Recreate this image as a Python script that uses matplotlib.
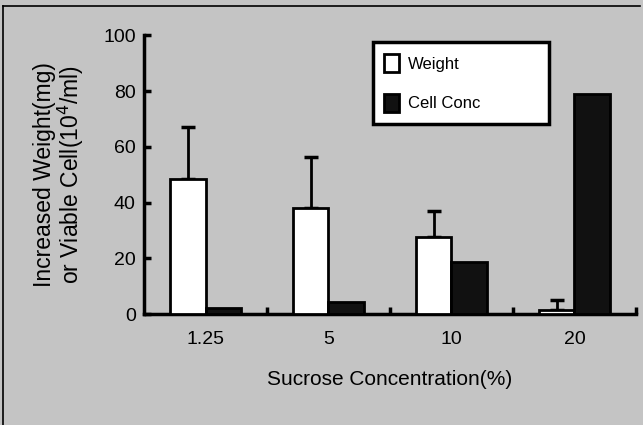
#!/usr/bin/env python3
# sucrose_bars.py

import numpy as np
import matplotlib
matplotlib.use("Agg")
import matplotlib.pyplot as plt
from matplotlib.lines import Line2D

# data
categories = ["1.25", "5", "10", "20"]
weight = [48.3, 38.2, 27.5, 1.5]
weight_err = [18.7, 18.1, 9.5, 3.4]
cell_conc = [2.1, 4.5, 18.6, 78.9]

plt.rcParams["font.family"] = ["Liberation Sans Narrow", "Liberation Sans", "DejaVu Sans"]

BG = "#c4c4c4"


def main():
    fig = plt.figure(figsize=(6.43, 4.25), dpi=100, facecolor=BG)
    ax = fig.add_axes([0.224, 0.261, 0.765, 0.656])
    ax.set_facecolor(BG)

    x = np.arange(len(categories)) + 0.5
    w = 0.29
    ax.bar(x - w / 2, weight, w, color="white", edgecolor="black", linewidth=2,
           label="Weight", zorder=3)
    ax.errorbar(x - w / 2, weight, yerr=[np.zeros(len(weight)), weight_err],
                fmt="none", ecolor="black", elinewidth=2, capsize=5, capthick=2.5,
                zorder=2)
    ax.bar(x + w / 2, cell_conc, w, color="#111111", edgecolor="black", linewidth=2,
           label="Cell Conc", zorder=3)

    ax.set_xlim(0, 4)
    ax.set_ylim(0, 100)
    for s in ("top", "right"):
        ax.spines[s].set_visible(False)
    for s in ("left", "bottom"):
        ax.spines[s].set_linewidth(2.5)

    ax.set_yticks([0, 20, 40, 60, 80, 100])
    ax.tick_params(axis="y", direction="in", length=5, width=2.5, labelsize=14, pad=6)
    ax.set_xticks(x)
    ax.set_xticklabels(categories)
    ax.tick_params(axis="x", length=0, labelsize=14, pad=12)
    ax.set_xticks([1, 2, 3, 4], minor=True)
    ax.tick_params(axis="x", which="minor", direction="in", length=5, width=2.5)

    ax.set_xlabel("Sucrose Concentration(%)", fontsize=15, labelpad=16)
    ax.set_ylabel("Increased Weight(mg)\nor Viable Cell(10$^4$/ml)", fontsize=16.5,
                  labelpad=12, linespacing=1.0)

    leg = ax.legend(loc="upper left", bbox_to_anchor=(0.465, 0.685, 0.358, 0.29),
                    mode="expand", fontsize=12,
                    fancybox=False, framealpha=1, edgecolor="black",
                    borderpad=0.7, labelspacing=1.3, handlelength=0.9,
                    handleheight=1.3, handletextpad=0.5, borderaxespad=0)
    leg.get_frame().set_linewidth(2.5)

    # thin frame lines at top and left of the picture
    fig.add_artist(Line2D([0.004, 0.996], [0.985, 0.985], color="black", lw=1.2))
    fig.add_artist(Line2D([0.005, 0.005], [0.0, 0.985], color="black", lw=1.2))

    fig.savefig("out.png", dpi=100, facecolor=BG)


if __name__ == "__main__":
    main()
